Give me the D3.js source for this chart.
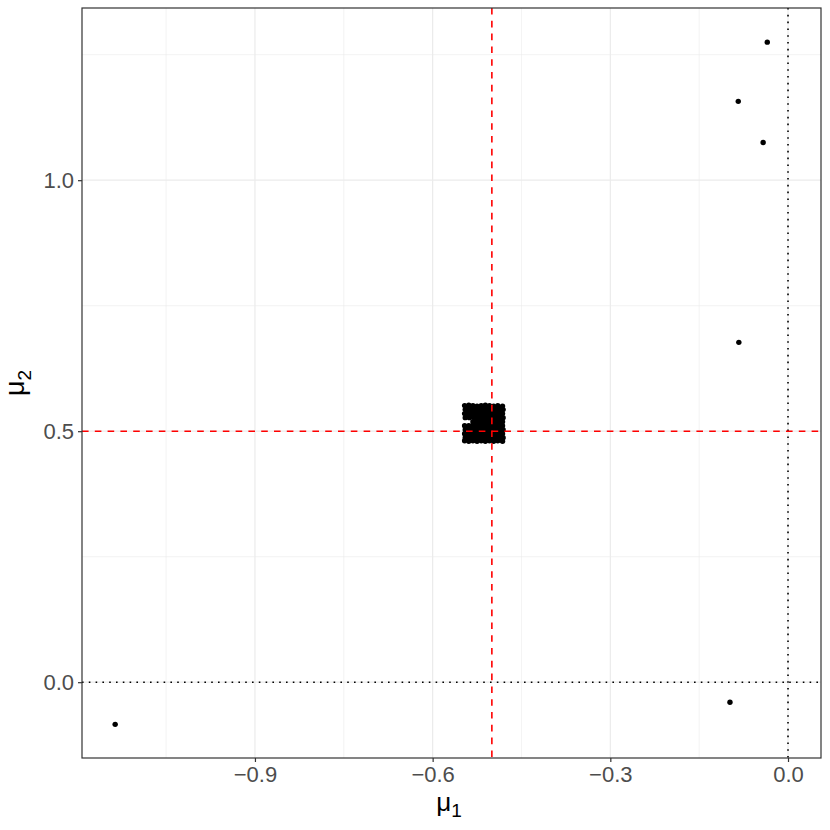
<!DOCTYPE html>
<html><head><meta charset="utf-8">
<script src="https://cdn.jsdelivr.net/npm/d3@7"></script>
<style>body{margin:0;background:#fff;} text{font-family:"Liberation Sans",Arial,sans-serif;}</style>
</head><body>
<svg id="c" width="830" height="830"></svg>
<script>
const xTicks = [-0.9, -0.6, -0.3, 0.0];
const yTicks = [0.0, 0.5, 1.0];
const xMinor = [-1.05, -0.75, -0.45, -0.15];
const yMinor = [0.25, 0.75, 1.25];
const outlierMu1 = [-1.136, -0.098, -0.035, -0.084, -0.042, -0.083];
const outlierMu2 = [-0.084, -0.040, 1.275, 1.157, 1.075, 0.677];
const clusterPoints = [
 [-0.546,0.551],[-0.539,0.552],[-0.532,0.551],[-0.525,0.550],[-0.518,0.551],[-0.511,0.552],[-0.504,0.551],[-0.497,0.550],[-0.490,0.551],[-0.482,0.550],
 [-0.545,0.543],[-0.538,0.543],[-0.531,0.544],[-0.524,0.543],[-0.517,0.542],[-0.510,0.543],[-0.503,0.544],[-0.496,0.543],[-0.489,0.542],[-0.481,0.543],
 [-0.546,0.535],[-0.539,0.535],[-0.532,0.536],[-0.525,0.535],[-0.518,0.534],[-0.511,0.535],[-0.504,0.536],[-0.497,0.535],[-0.490,0.534],[-0.482,0.535],
 [-0.545,0.527],[-0.538,0.527],[-0.531,0.528],[-0.524,0.527],[-0.517,0.526],[-0.510,0.527],[-0.503,0.528],[-0.496,0.527],[-0.489,0.526],[-0.481,0.527],
 [-0.532,0.519],[-0.526,0.519],[-0.519,0.519],[-0.512,0.520],[-0.505,0.519],[-0.498,0.518],[-0.491,0.519],[-0.482,0.519],
 [-0.546,0.511],[-0.539,0.511],[-0.532,0.512],[-0.525,0.511],[-0.518,0.510],[-0.511,0.511],[-0.504,0.512],[-0.497,0.511],[-0.490,0.510],[-0.482,0.511],
 [-0.545,0.503],[-0.538,0.503],[-0.531,0.504],[-0.524,0.503],[-0.517,0.502],[-0.510,0.503],[-0.503,0.504],[-0.496,0.503],[-0.489,0.502],[-0.481,0.503],
 [-0.546,0.495],[-0.539,0.495],[-0.532,0.496],[-0.525,0.495],[-0.518,0.494],[-0.511,0.495],[-0.504,0.496],[-0.497,0.495],[-0.490,0.494],[-0.482,0.495],
 [-0.545,0.487],[-0.538,0.487],[-0.531,0.488],[-0.524,0.487],[-0.517,0.486],[-0.510,0.487],[-0.503,0.488],[-0.496,0.487],[-0.489,0.486],[-0.481,0.487],
 [-0.546,0.481],[-0.539,0.480],[-0.532,0.481],[-0.525,0.480],[-0.518,0.481],[-0.511,0.480],[-0.504,0.481],[-0.497,0.480],[-0.490,0.481],[-0.482,0.480],
 [-0.542,0.547],[-0.535,0.548],[-0.528,0.547],[-0.521,0.546],[-0.514,0.547],[-0.507,0.548],[-0.500,0.547],[-0.493,0.546],[-0.486,0.547],
 [-0.542,0.539],[-0.535,0.539],[-0.528,0.540],[-0.521,0.539],[-0.514,0.538],[-0.507,0.539],[-0.500,0.540],[-0.493,0.539],[-0.486,0.538],
 [-0.542,0.531],[-0.535,0.531],[-0.528,0.532],[-0.521,0.531],[-0.514,0.530],[-0.507,0.531],[-0.500,0.532],[-0.493,0.531],[-0.486,0.530],
 [-0.528,0.523],[-0.521,0.523],[-0.514,0.522],[-0.507,0.523],[-0.500,0.524],[-0.493,0.523],[-0.486,0.522],
 [-0.528,0.515],[-0.521,0.515],[-0.514,0.516],[-0.507,0.515],[-0.500,0.514],[-0.493,0.515],[-0.486,0.516],
 [-0.542,0.507],[-0.535,0.507],[-0.528,0.508],[-0.521,0.507],[-0.514,0.506],[-0.507,0.507],[-0.500,0.508],[-0.493,0.507],[-0.486,0.506],
 [-0.542,0.499],[-0.535,0.499],[-0.528,0.500],[-0.521,0.499],[-0.514,0.498],[-0.507,0.499],[-0.500,0.500],[-0.493,0.499],[-0.486,0.498],
 [-0.542,0.491],[-0.535,0.491],[-0.528,0.492],[-0.521,0.491],[-0.514,0.490],[-0.507,0.491],[-0.500,0.492],[-0.493,0.491],[-0.486,0.490],
 [-0.542,0.484],[-0.535,0.484],[-0.528,0.483],[-0.521,0.484],[-0.514,0.484],[-0.507,0.483],[-0.500,0.484],[-0.493,0.484],[-0.486,0.483]
];
const trueMu1 = -0.5, trueMu2 = 0.5;

const L = 82, R = 821, T = 8, B = 758;
const x = d3.scaleLinear().domain([-1.192, 0.0557]).range([L, R]);
const y = d3.scaleLinear().domain([-0.151, 1.343]).range([B, T]);
const svg = d3.select("#c");

const g = svg.append("g");
g.selectAll(".xm").data(xMinor).enter().append("line")
 .attr("x1", d=>x(d)).attr("x2", d=>x(d)).attr("y1", T).attr("y2", B)
 .attr("stroke", "#ebebeb").attr("stroke-width", 0.6);
g.selectAll(".ym").data(yMinor).enter().append("line")
 .attr("y1", d=>y(d)).attr("y2", d=>y(d)).attr("x1", L).attr("x2", R)
 .attr("stroke", "#ebebeb").attr("stroke-width", 0.6);
g.selectAll(".xM").data(xTicks).enter().append("line")
 .attr("x1", d=>x(d)).attr("x2", d=>x(d)).attr("y1", T).attr("y2", B)
 .attr("stroke", "#ebebeb").attr("stroke-width", 1.2);
g.selectAll(".yM").data(yTicks).enter().append("line")
 .attr("y1", d=>y(d)).attr("y2", d=>y(d)).attr("x1", L).attr("x2", R)
 .attr("stroke", "#ebebeb").attr("stroke-width", 1.2);

// points
g.selectAll(".cp").data(clusterPoints).enter().append("circle")
 .attr("cx", d=>x(d[0])).attr("cy", d=>y(d[1])).attr("r", 2.7).attr("fill", "#000");
g.selectAll(".op").data(outlierMu1).enter().append("circle")
 .attr("cx", d=>x(d)).attr("cy", (d,i)=>y(outlierMu2[i])).attr("r", 2.7).attr("fill", "#000");

// reference lines
g.append("line").attr("x1", x(0)).attr("x2", x(0)).attr("y1", T).attr("y2", B)
 .attr("stroke", "#000").attr("stroke-width", 1.6).attr("stroke-dasharray", "1.6,5.2");
g.append("line").attr("y1", y(0)).attr("y2", y(0)).attr("x1", L).attr("x2", R)
 .attr("stroke", "#000").attr("stroke-width", 1.6).attr("stroke-dasharray", "1.6,5.2");
g.append("line").attr("x1", x(trueMu1)).attr("x2", x(trueMu1)).attr("y1", T).attr("y2", B)
 .attr("stroke", "#ff0000").attr("stroke-width", 1.6).attr("stroke-dasharray", "6.6,6.2");
g.append("line").attr("y1", y(trueMu2)).attr("y2", y(trueMu2)).attr("x1", L).attr("x2", R)
 .attr("stroke", "#ff0000").attr("stroke-width", 1.6).attr("stroke-dasharray", "6.6,6.2");

// panel border
svg.append("rect").attr("x", L).attr("y", T).attr("width", R-L).attr("height", B-T)
 .attr("fill", "none").attr("stroke", "#333333").attr("stroke-width", 1.2);

// axes
const xa = svg.append("g").attr("transform", `translate(0,${B})`)
 .call(d3.axisBottom(x).tickValues(xTicks).tickSize(4).tickPadding(4)
   .tickFormat(d => (d < 0 ? "\u2212" : "") + d3.format(".1f")(Math.abs(d))));
const ya = svg.append("g").attr("transform", `translate(${L},0)`)
 .call(d3.axisLeft(y).tickValues(yTicks).tickSize(4).tickPadding(4).tickFormat(d3.format(".1f")));
[xa, ya].forEach(a => {
  a.select(".domain").remove();
  a.selectAll(".tick line").attr("stroke", "#333333").attr("stroke-width", 1.2);
  a.selectAll(".tick text").attr("fill", "#4d4d4d").style("font-size", "22px")
   .style("font-family", "'Liberation Sans', Arial, sans-serif");
});

// axis titles
const xt = svg.append("text").attr("x", 449).attr("y", 811).attr("text-anchor", "middle")
 .style("font-size", "26px").attr("fill", "#000");
xt.append("tspan").text("\u03bc");
xt.append("tspan").attr("dy", 6).style("font-size", "19px").text("1");
const yt = svg.append("text").attr("transform", `translate(24,${(T+B)/2}) rotate(-90)`)
 .attr("text-anchor", "middle").style("font-size", "27px").attr("fill", "#000");
yt.append("tspan").text("\u03bc");
yt.append("tspan").attr("dy", 7).style("font-size", "19px").text("2");
</script>
</body></html>
